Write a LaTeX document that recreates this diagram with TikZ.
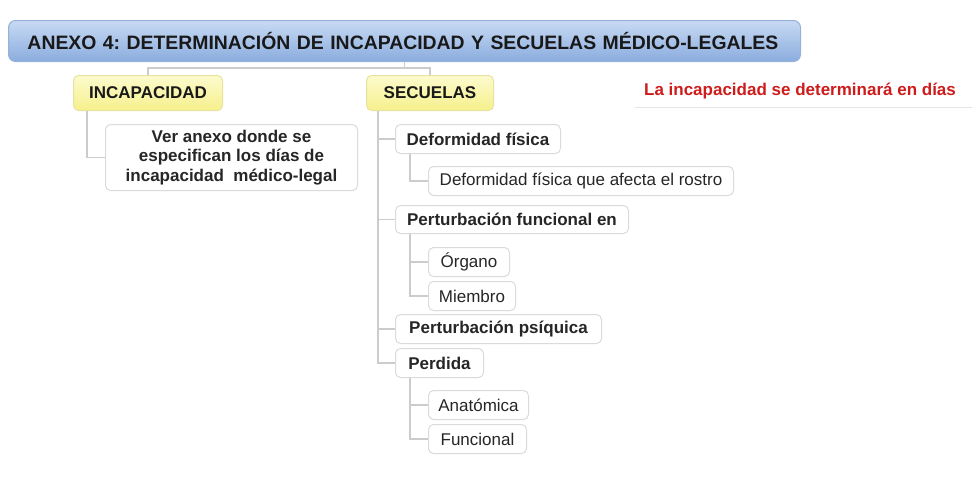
\documentclass[tikz,border=0pt]{standalone}
\usepackage{fontspec}
\setmainfont{Liberation Sans}
\frenchspacing
\begin{document}
\begin{tikzpicture}[x=1pt,y=-1pt,
  conn/.style={draw=black!20,line width=1.3pt},
  box/.style={draw=black!14,line width=1pt,fill=white,rounded corners=5pt,inner sep=0pt,
    font=\fontsize{17}{20}\selectfont,text=black!85},
  bbox/.style={box,font=\fontsize{17}{19.5}\selectfont\bfseries},
  ybox/.style={draw={rgb,255:red,232;green,226;blue,160},line width=1pt,rounded corners=5pt,inner sep=0pt,
    top color={rgb,255:red,252;green,251;blue,205},bottom color={rgb,255:red,246;green,240;blue,140},
    font=\fontsize{17}{20}\selectfont\bfseries,text=black!90},
  tbox/.style={draw={rgb,255:red,150;green,178;blue,216},line width=1pt,rounded corners=7pt,inner sep=0pt,
    top color={rgb,255:red,200;green,218;blue,243},bottom color={rgb,255:red,138;green,172;blue,222},
    font=\fontsize{19.4}{22}\selectfont\bfseries,text=black!90}
]
\useasboundingbox (0,0) rectangle (979,479);
\node[tbox,minimum width=792,minimum height=41,anchor=north west,align=left,text width=772] (title) at (8,20) {\hspace*{9pt}ANEXO 4: DETERMINACIÓN DE INCAPACIDAD Y SECUELAS MÉDICO-LEGALES};
\node[ybox,minimum width=149,minimum height=35,anchor=north west] (inc) at (73,75) {INCAPACIDAD};
\node[ybox,minimum width=127,minimum height=35,anchor=north west] (sec) at (366,75) {SECUELAS};
\node[bbox,minimum width=252,minimum height=66,anchor=north west,align=center] (ver) at (105,124) {Ver anexo donde se\\especifican los días de\\incapacidad\ \ médico-legal};
\node[bbox,minimum width=165,minimum height=29,anchor=north west] (def) at (395,124) {Deformidad física};
\node[box,minimum width=305,minimum height=29,anchor=north west] (rostro) at (428,166) {Deformidad física que afecta el rostro};
\node[bbox,minimum width=233,minimum height=28,anchor=north west] (pf) at (395,205) {Perturbación funcional en};
\node[box,minimum width=81,minimum height=29,anchor=north west] (org) at (428,247) {Órgano};
\node[box,minimum width=87,minimum height=29,anchor=north west] (mie) at (428,281) {Miembro};
\node[bbox,minimum width=206,minimum height=29,anchor=north west] (pp) at (395,314) {Perturbación psíquica};
\node[bbox,minimum width=88,minimum height=29,anchor=north west] (per) at (395,348) {Perdida};
\node[box,minimum width=100,minimum height=29,anchor=north west] (ana) at (428,390) {Anatómica};
\node[box,minimum width=98,minimum height=29,anchor=north west] (fun) at (428,424) {Funcional};
\node[font=\fontsize{17}{20}\selectfont\bfseries,text={rgb,255:red,204;green,28;blue,28},inner sep=0pt] (note) at (800,91) {La incapacidad se determinará en días};
\coordinate (ul1) at (635,107);
\coordinate (ul2) at (972,107);
\draw[draw=black!10,line width=1pt] (ul1) -- (ul2);
% connectors
\draw[conn] (title.south) -- ++(0,6) -| (inc.north);
\draw[conn] (title.south) -- ++(0,6) -| (sec.north);
\draw[conn] ([xshift=14pt]inc.south west) |- (ver.west);
\draw[conn] ([xshift=12pt]sec.south west) |- (def.west);
\draw[conn] ([xshift=12pt]sec.south west) |- (pf.west);
\draw[conn] ([xshift=12pt]sec.south west) |- (pp.west);
\draw[conn] ([xshift=12pt]sec.south west) |- (per.west);
\draw[conn] ([xshift=15pt]def.south west) |- (rostro.west);
\draw[conn] ([xshift=15pt]pf.south west) |- (org.west);
\draw[conn] ([xshift=15pt]pf.south west) |- (mie.west);
\draw[conn] ([xshift=15pt]per.south west) |- (ana.west);
\draw[conn] ([xshift=15pt]per.south west) |- (fun.west);
\end{tikzpicture}
\end{document}
